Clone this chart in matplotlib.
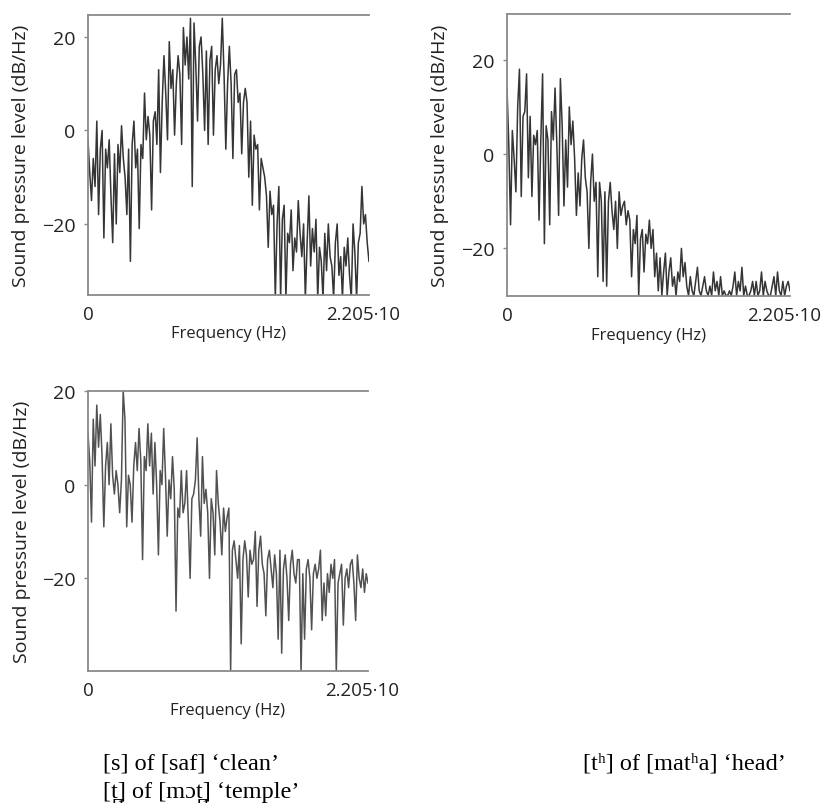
import matplotlib
matplotlib.use("Agg")
import matplotlib.pyplot as plt
import matplotlib.transforms as mtransforms
import numpy as np

plt.rcParams['font.family'] = ['Open Sans', 'DejaVu Sans']

# spectra (dB/Hz), evenly spaced from 0 to 22050 Hz
s_saf = [-2, -9, -15, -6, -12, 2, -18, -4, 0, -23,
         -4, -8, -2, -14, -24, -5, -20, -3, -9, 1,
         -6, -10, -18, -4, -28, -3, 2, -8, -4, -21,
         -3, -6, 8, -2, 3, -1, -17, 2, 4, -3,
         13, -9, 6, 16, 8, -2, 19, 9, 13, -1,
         10, 16, 12, -3, 22, 14, 20, 11, 24, -12,
         23, 14, 2, 18, 20, 12, 0, 17, -3, 15,
         18, -1, 13, 16, 10, 14, 24, 12, -4, 10,
         18, 10, -6, 12, 13, 6, 8, -5, 6, 9,
         6, -10, 2, -16, -1, -4, -3, -17, -6, -8,
         -10, -14, -25, -13, -18, -16, -36, -20, -12, -36,
         -19, -16, -36, -22, -24, -17, -30, -23, -26, -15,
         -22, -27, -20, -36, -24, -14, -29, -21, -26, -19,
         -36, -25, -28, -36, -22, -30, -20, -27, -29, -36,
         -24, -20, -31, -27, -36, -25, -29, -23, -31, -36,
         -20, -26, -36, -24, -22, -12, -20, -18, -24, -28]

th_matha = [14, 2, -15, 5, -1, -8, 10, 18, -9, 8,
            9, 17, -5, 8, -9, 4, 2, 5, -14, 3,
            17, -19, 6, 3, -15, 9, 3, 14, 2, -13,
            16, 6, -11, 3, -7, 10, 2, 7, -1, -13,
            -4, -11, -1, 3, -5, -8, -20, -6, 0, -10,
            -6, -26, -6, -10, -27, -8, -28, -10, -6, -12,
            -16, -10, -20, -8, -13, -11, -10, -15, -12, -14,
            -26, -16, -19, -13, -30, -18, -16, -25, -17, -19,
            -14, -20, -16, -26, -21, -29, -22, -30, -25, -21,
            -30, -25, -22, -28, -26, -30, -25, -27, -20, -26,
            -23, -28, -30, -26, -29, -30, -27, -24, -29, -30,
            -28, -26, -29, -30, -28, -30, -25, -29, -27, -30,
            -26, -30, -29, -30, -30, -29, -30, -28, -25, -30,
            -27, -29, -24, -30, -28, -30, -30, -29, -27, -30,
            -27, -30, -29, -25, -30, -27, -29, -30, -30, -28,
            -26, -30, -25, -29, -30, -27, -30, -28, -27, -29]

t_mot = [11, 5, -8, 14, 4, 17, 8, 15, 6, -9,
         4, 9, 0, 13, 2, -2, 3, 0, -6, 1,
         20, 14, -9, 2, 0, -8, 4, 9, 3, 12,
         5, -16, 6, 3, 13, 4, 11, -2, 9, 0,
         -15, 3, 0, 12, 2, -11, 1, -3, 6, -1,
         -27, -5, -7, 3, -6, -4, 3, -8, -20, -3,
         -2, 1, 10, -3, -11, 6, -4, -1, -6, -20,
         -3, -6, -15, 3, -4, -8, -15, -5, -10, -7,
         -5, -40, -14, -12, -16, -20, -13, -34, -16, -12,
         -15, -24, -14, -17, -16, -10, -26, -14, -11, -17,
         -19, -28, -16, -14, -18, -22, -15, -19, -33, -14,
         -36, -18, -15, -20, -29, -17, -14, -19, -21, -16,
         -16, -40, -19, -33, -18, -16, -20, -31, -19, -17,
         -20, -18, -14, -29, -21, -28, -19, -23, -17, -20,
         -16, -40, -21, -19, -17, -30, -20, -18, -22, -17,
         -16, -21, -29, -15, -20, -22, -18, -23, -19, -21]

f_max = 22050
xtick_labels = ['0', '2.205·10']
captions = ["[s] of [saf] ‘clean’", "[tʰ] of [matʰa] ‘head’", "[t̪] of [mɔt̪] ‘temple’"]

fig = plt.figure(figsize=(8.26, 8.12), dpi=100)

panels = [
    ([0.1065, 0.6355, 0.3402, 0.3448], s_saf, (-35.2, 24.7), '#111111'),
    ([0.6138, 0.6342, 0.3426, 0.3473], th_matha, (-30.1, 29.7), '#111111'),
    ([0.1065, 0.1724, 0.3390, 0.3448], t_mot, (-39.8, 20.0), '#333333'),
]

# nudge the right-hand x label a little to the left, as in the source
shift = mtransforms.ScaledTranslation(-6 / 100, 0, fig.dpi_scale_trans)

for rect, vals, ylim, col in panels:
    ax = fig.add_axes(rect)
    freq = np.linspace(0, f_max, len(vals))
    ax.plot(freq, vals, color=col, lw=1.1, alpha=0.85)
    ax.set_xlim(0, f_max)
    ax.set_ylim(*ylim)
    ax.set_yticks([-20, 0, 20])
    ax.set_yticklabels(['\u221220', '0', '20'])
    ax.set_xticks([0, f_max])
    ax.set_xticklabels(xtick_labels)
    ax.spines['right'].set_visible(False)
    for sp in ['top', 'left', 'bottom']:
        ax.spines[sp].set_color('#8a8a8a')
        ax.spines[sp].set_linewidth(1.3)
    ax.tick_params(axis='y', length=3, width=1, color='#8a8a8a', pad=6,
                   labelsize=14, labelcolor='#222222')
    ax.tick_params(axis='x', length=0, pad=7, labelsize=13.5, labelcolor='#222222')
    lbl = ax.get_xticklabels()[-1]
    lbl.set_transform(lbl.get_transform() + shift)
    ax.set_xlabel('Frequency (Hz)', fontsize=12, color='#222222', labelpad=2)
    ax.set_ylabel('Sound pressure level (dB/Hz)', fontsize=14, color='#222222')
    ax.yaxis.set_label_coords(-0.205, 0.5)

serif = ['Liberation Serif', 'DejaVu Serif']
fig.text(103 / 826, 1 - 764 / 812, captions[0], family=serif, fontsize=17.5, va='center', ha='left')
fig.text(583 / 826, 1 - 764 / 812, captions[1], family=serif, fontsize=17.5, va='center', ha='left')
fig.text(103 / 826, 1 - 793 / 812, captions[2], family=serif, fontsize=17.5, va='center', ha='left')

fig.savefig('out.png', dpi=100)
